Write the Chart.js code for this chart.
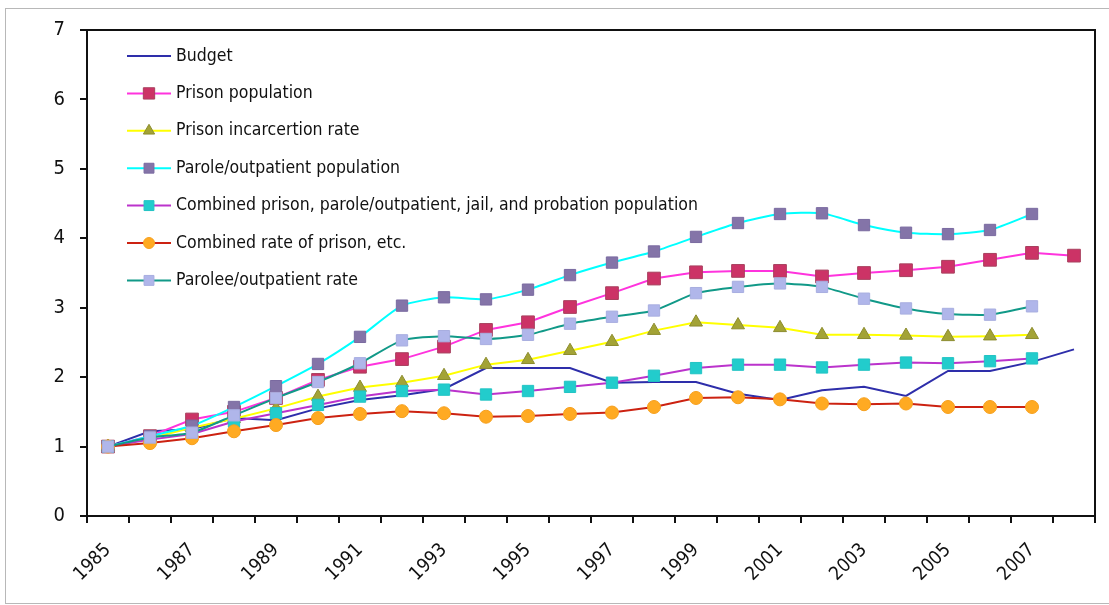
<!DOCTYPE html>
<html>
<head>
<meta charset="utf-8">
<script src="https://cdn.jsdelivr.net/npm/chart.js@4.4.1/dist/chart.umd.min.js"></script>
<style>
  html, body { margin: 0; padding: 0; background: #fff; }
  #wrap { position: relative; width: 1109px; height: 605px; overflow: hidden; }
  #frame { position: absolute; left: 5px; top: 8px; width: 1110px; height: 594px;
           border-left: 1px solid #b8b8b8; border-top: 1px solid #b8b8b8; border-bottom: 1px solid #b8b8b8;
           pointer-events: none; }
</style>
</head>
<body>
<div id="wrap">
  <canvas id="lineChart" width="1109" height="605"></canvas>
  <div id="frame"></div>
</div>
<script>
const years = ['1985','1986','1987','1988','1989','1990','1991','1992','1993','1994','1995','1996',
               '1997','1998','1999','2000','2001','2002','2003','2004','2005','2006','2007','2008'];

const budget       = [1.00,1.22,1.25,1.41,1.38,1.55,1.67,1.74,1.83,2.13,2.13,2.13,1.92,1.93,1.93,1.76,1.67,1.81,1.86,1.73,2.09,2.09,2.22,2.40];
const prisonPop    = [1.00,1.15,1.39,1.50,1.70,1.96,2.15,2.26,2.44,2.68,2.79,3.01,3.21,3.42,3.51,3.53,3.53,3.45,3.50,3.54,3.59,3.69,3.79,3.75];
const prisonRate   = [1.00,1.12,1.27,1.40,1.55,1.72,1.85,1.92,2.02,2.18,2.25,2.38,2.51,2.67,2.79,2.75,2.71,2.61,2.61,2.60,2.58,2.59,2.61,null];
const parolePop    = [1.00,1.15,1.30,1.57,1.87,2.19,2.58,3.03,3.15,3.12,3.26,3.47,3.65,3.81,4.02,4.22,4.35,4.36,4.19,4.08,4.06,4.12,4.35,null];
const combinedPop  = [1.00,1.10,1.18,1.36,1.48,1.60,1.72,1.80,1.82,1.75,1.80,1.86,1.92,2.02,2.13,2.18,2.18,2.14,2.18,2.21,2.20,2.23,2.27,null];
const combinedRate = [1.00,1.05,1.12,1.22,1.31,1.41,1.47,1.51,1.48,1.43,1.44,1.47,1.49,1.57,1.70,1.71,1.68,1.62,1.61,1.62,1.57,1.57,1.57,null];
const paroleeRate  = [1.00,1.13,1.20,1.45,1.70,1.93,2.20,2.53,2.59,2.55,2.61,2.77,2.87,2.96,3.21,3.30,3.35,3.30,3.13,2.99,2.91,2.90,3.02,null];

const yTicks = [0,1,2,3,4,5,6,7];

const FONT = '"Liberation Sans Narrow", "DejaVu Sans Condensed", "Liberation Sans", sans-serif';

const series = [
  { label: 'Budget', data: budget, line: '#2e2eaa', style: false },
  { label: 'Prison population', data: prisonPop, line: '#ff33dd', style: 'rect', fill: '#cc3366', border: '#a8405e', r: 9 },
  { label: 'Prison incarcertion rate', data: prisonRate, line: '#ffff00', style: 'triangle', fill: '#a3a336', border: '#8c8c2e', r: 7.5 },
  { label: 'Parole/outpatient population', data: parolePop, line: '#00ffff', style: 'rect', fill: '#8474a8', border: '#7a6aa0', r: 8, tension: 0.2 },
  { label: 'Combined prison, parole/outpatient, jail, and probation population', data: combinedPop, line: '#bb33cc', style: 'rect', fill: '#22cccc', border: '#22c4c4', r: 8 },
  { label: 'Combined rate of prison, etc.', data: combinedRate, line: '#cc2211', style: 'circle', fill: '#ffaa22', border: '#f5a020', r: 6.5 },
  { label: 'Parolee/outpatient rate', data: paroleeRate, line: '#119988', style: 'rect', fill: '#b0b6ea', border: '#a8aee0', r: 8, tension: 0.2 }
];

// legend with line + marker, drawn inside the plot area like the original
const insideLegend = {
  id: 'insideLegend',
  afterDraw(chart) {
    const ctx = chart.ctx;
    const area = chart.chartArea;
    ctx.save();
    series.forEach((s, i) => {
      const y = area.top + 26 + i * 37.4;
      const x0 = area.left + 40;
      ctx.strokeStyle = s.line;
      ctx.lineWidth = 2;
      ctx.beginPath();
      ctx.moveTo(x0, y);
      ctx.lineTo(x0 + 44, y);
      ctx.stroke();
      if (s.style) {
        ctx.fillStyle = s.fill;
        ctx.strokeStyle = s.border;
        ctx.lineWidth = 1;
        Chart.helpers.drawPoint(ctx, { pointStyle: s.style, radius: s.r - 1, rotation: 0, borderWidth: 1 }, x0 + 22, y);
      }
      ctx.fillStyle = '#111';
      ctx.font = '17.5px ' + FONT;
      ctx.textBaseline = 'middle';
      ctx.textAlign = 'left';
      ctx.fillText(s.label, x0 + 49, y);
    });
    ctx.restore();
  }
};

// top and right sides of the plot frame
const plotFrame = {
  id: 'plotFrame',
  afterDraw(chart) {
    const ctx = chart.ctx;
    const a = chart.chartArea;
    ctx.save();
    ctx.strokeStyle = '#111';
    ctx.lineWidth = 2;
    ctx.beginPath();
    ctx.moveTo(a.left, a.top);
    ctx.lineTo(a.right, a.top);
    ctx.lineTo(a.right, a.bottom);
    ctx.stroke();
    ctx.restore();
  }
};

new Chart(document.getElementById('lineChart'), {
  type: 'line',
  data: {
    labels: years,
    datasets: series.map((s, i) => ({
      label: s.label,
      data: s.data,
      borderColor: s.line,
      borderWidth: 2,
      backgroundColor: s.fill || s.line,
      pointBackgroundColor: s.fill,
      pointBorderColor: s.border,
      pointBorderWidth: 1,
      pointStyle: s.style || 'circle',
      pointRadius: s.style ? s.r : 0,
      pointHoverRadius: s.style ? s.r : 0,
      tension: s.tension || 0,
      spanGaps: false,
      order: series.length - i
    }))
  },
  plugins: [insideLegend, plotFrame],
  options: {
    responsive: false,
    animation: false,
    layout: { padding: { left: 0, top: 30, right: 14, bottom: 0 } },
    plugins: {
      legend: { display: false },
      tooltip: { enabled: false }
    },
    scales: {
      x: {
        type: 'category',
        offset: true,
        afterFit: (scale) => { scale.height = 89; },
        grid: {
          offset: true,
          drawOnChartArea: false,
          drawTicks: true,
          tickLength: 7,
          color: '#111',
          lineWidth: 2
        },
        border: { color: '#111', width: 2 },
        ticks: {
          autoSkip: false,
          maxRotation: 45,
          minRotation: 45,
          padding: 16,
          color: '#111',
          font: { family: FONT, size: 19 },
          callback: function (value, index) {
            return index % 2 === 0 ? years[index] : '';
          }
        }
      },
      y: {
        min: 0,
        max: 7,
        afterFit: (scale) => { scale.width = 87; },
        afterBuildTicks: (scale) => { scale.ticks = yTicks.map(v => ({ value: v })); },
        grid: {
          drawOnChartArea: false,
          drawTicks: true,
          tickLength: 7,
          color: '#111',
          lineWidth: 2
        },
        border: { color: '#111', width: 2 },
        ticks: {
          padding: 15,
          color: '#111',
          font: { family: FONT, size: 20 }
        }
      }
    }
  }
});
</script>
</body>
</html>
